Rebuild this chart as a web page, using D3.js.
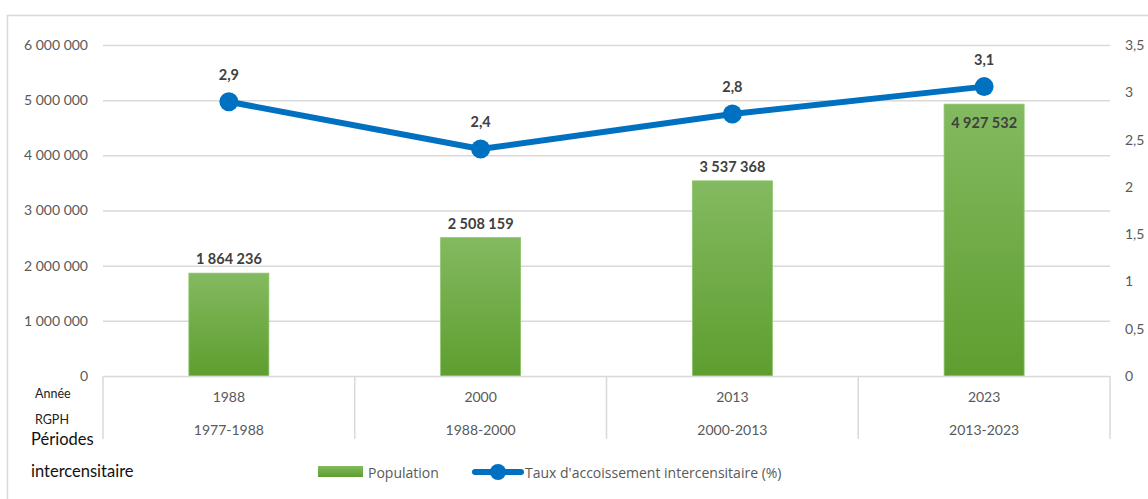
<!DOCTYPE html>
<html><head><meta charset="utf-8">
<script src="https://cdn.jsdelivr.net/npm/d3@7/dist/d3.min.js"></script>
<style>
body{margin:0;background:#fff;}
svg{display:block;}
text{font-family:Lato,"Open Sans","DejaVu Sans",sans-serif;}
text.leg{font-family:"Open Sans","DejaVu Sans",sans-serif;}
</style></head><body>
<svg id="c" width="1148" height="499"></svg>
<script>
const years = ["1988","2000","2013","2023"];
const periods = ["1977-1988","1988-2000","2000-2013","2013-2023"];
const population = [1864236, 2508159, 3537368, 4927532];
const growthRate = [2.9, 2.4, 2.77, 3.06];
const growthLabels = ["2,9","2,4","2,8","3,1"];
const leftTicks = [0,1000000,2000000,3000000,4000000,5000000,6000000];
const rightTicks = [0,0.5,1,1.5,2,2.5,3,3.5];
const seriesNames = ["Population","Taux d'accoissement intercensitaire (%)"];

const svg = d3.select("#c");
const L=103, R=1110, T=45, B=376;
const grid="#d9d9d9";

// outer border
svg.append("rect").attr("x",7.5).attr("y",15.5).attr("width",1200).attr("height",600)
  .attr("fill","none").attr("stroke",grid).attr("stroke-width",1.5);

const x = d3.scaleBand().domain(years).range([L,R]).paddingInner(0).paddingOuter(0);
const yL = d3.scaleLinear().domain([0,6000000]).range([B,T]);
const yR = d3.scaleLinear().domain([0,3.5]).range([B,T]);

const defs = svg.append("defs");
const g = defs.append("linearGradient").attr("id","bg").attr("x1",0).attr("y1",0).attr("x2",0).attr("y2",1);
g.append("stop").attr("offset","0%").attr("stop-color","#83ba60");
g.append("stop").attr("offset","100%").attr("stop-color","#5e9e2f");

// gridlines
svg.append("g").selectAll("line").data(leftTicks.slice(1)).join("line")
  .attr("x1",L).attr("x2",R).attr("y1",d=>yL(d)+0.5).attr("y2",d=>yL(d)+0.5)
  .attr("stroke",grid).attr("stroke-width",1.5);

const fmtSpace = d => d3.format(",")(d).replace(/,/g," ");
const fmtComma = d => String(d).replace(".",",");

// left axis
const la = svg.append("g").attr("transform",`translate(${L},0)`)
  .call(d3.axisLeft(yL).tickValues(leftTicks).tickFormat(fmtSpace).tickSize(0).tickPadding(15));
la.select(".domain").remove();
la.selectAll("text").attr("fill","#595959").attr("font-size","14px");

// right axis
const ra = svg.append("g").attr("transform",`translate(${R},0)`)
  .call(d3.axisRight(yR).tickValues(rightTicks).tickFormat(fmtComma).tickSize(0).tickPadding(15));
ra.select(".domain").remove();
ra.selectAll("text").attr("fill","#595959").attr("font-size","14px");

// bars
const bw = 80;
svg.append("g").selectAll("rect").data(population).join("rect")
  .attr("x",(d,i)=>x(years[i])+x.bandwidth()/2-bw/2)
  .attr("y",d=>yL(d)).attr("width",bw).attr("height",d=>B-yL(d))
  .attr("fill","url(#bg)").attr("stroke","#8cc46a").attr("stroke-width",0.8);

// category axis lines
svg.append("line").attr("x1",L).attr("x2",R).attr("y1",B+0.5).attr("y2",B+0.5).attr("stroke",grid).attr("stroke-width",1.5);
const seps = years.map(d=>x(d)).concat([R]);
svg.append("g").selectAll("line").data(seps).join("line")
  .attr("x1",d=>d).attr("x2",d=>d).attr("y1",B).attr("y2",439)
  .attr("stroke",grid).attr("stroke-width",1.5);

svg.append("g").selectAll("text").data(years).join("text")
  .attr("x",d=>x(d)+x.bandwidth()/2).attr("y",402).attr("text-anchor","middle")
  .attr("fill","#595959").attr("font-size","14px").text(d=>d);
svg.append("g").selectAll("text").data(periods).join("text")
  .attr("x",(d,i)=>x(years[i])+x.bandwidth()/2).attr("y",435).attr("text-anchor","middle")
  .attr("fill","#595959").attr("font-size","14px").text(d=>d);

// row labels
svg.append("text").attr("x",35).attr("y",398).attr("font-size","12.5px").attr("fill","#222").text("Année");
svg.append("text").attr("x",35).attr("y",424).attr("font-size","12.5px").attr("fill","#222").text("RGPH");
svg.append("text").attr("x",31).attr("y",445).attr("font-size","16.5px").attr("fill","#111").text("Périodes");
svg.append("text").attr("x",31).attr("y",477).attr("font-size","16.5px").attr("fill","#111").text("intercensitaire");

// line
const cx = i => x(years[i])+x.bandwidth()/2;
const line = d3.line().x((d,i)=>cx(i)).y(d=>yR(d));
svg.append("path").datum(growthRate).attr("d",line).attr("fill","none")
  .attr("stroke","#0070c0").attr("stroke-width",6).attr("stroke-linejoin","round");
svg.append("g").selectAll("circle").data(growthRate).join("circle")
  .attr("cx",(d,i)=>cx(i)).attr("cy",d=>yR(d)).attr("r",9.5).attr("fill","#0070c0");

// bar labels
svg.append("g").selectAll("text").data(population).join("text")
  .attr("x",(d,i)=>cx(i))
  .attr("y",(d,i)=>{
    const top=yL(d), pt=yR(growthRate[i]);
    return (top-pt<30) ? top+24 : top-9;
  })
  .attr("text-anchor","middle").attr("font-weight","bold").attr("font-size","14.5px")
  .attr("fill","#404040").text(d=>fmtSpace(d));

// line labels
svg.append("g").selectAll("text").data(growthRate).join("text")
  .attr("x",(d,i)=>cx(i)).attr("y",d=>yR(d)-22)
  .attr("text-anchor","middle").attr("font-weight","bold").attr("font-size","14.5px")
  .attr("fill","#404040").text((d,i)=>growthLabels[i]);

// legend
const lg = svg.append("g");
lg.append("rect").attr("x",318).attr("y",466).attr("width",45).attr("height",11).attr("fill","url(#bg)");
lg.append("text").attr("class","leg").attr("x",368).attr("y",478).attr("font-size","14px").attr("fill","#595959").text(seriesNames[0]);
lg.append("line").attr("x1",475).attr("x2",521).attr("y1",472).attr("y2",472).attr("stroke","#0070c0").attr("stroke-width",6).attr("stroke-linecap","round");
lg.append("circle").attr("cx",498).attr("cy",472).attr("r",8).attr("fill","#0070c0");
lg.append("text").attr("class","leg").attr("x",525).attr("y",478).attr("font-size","14px").attr("fill","#595959").text(seriesNames[1]);
</script>
</body></html>
